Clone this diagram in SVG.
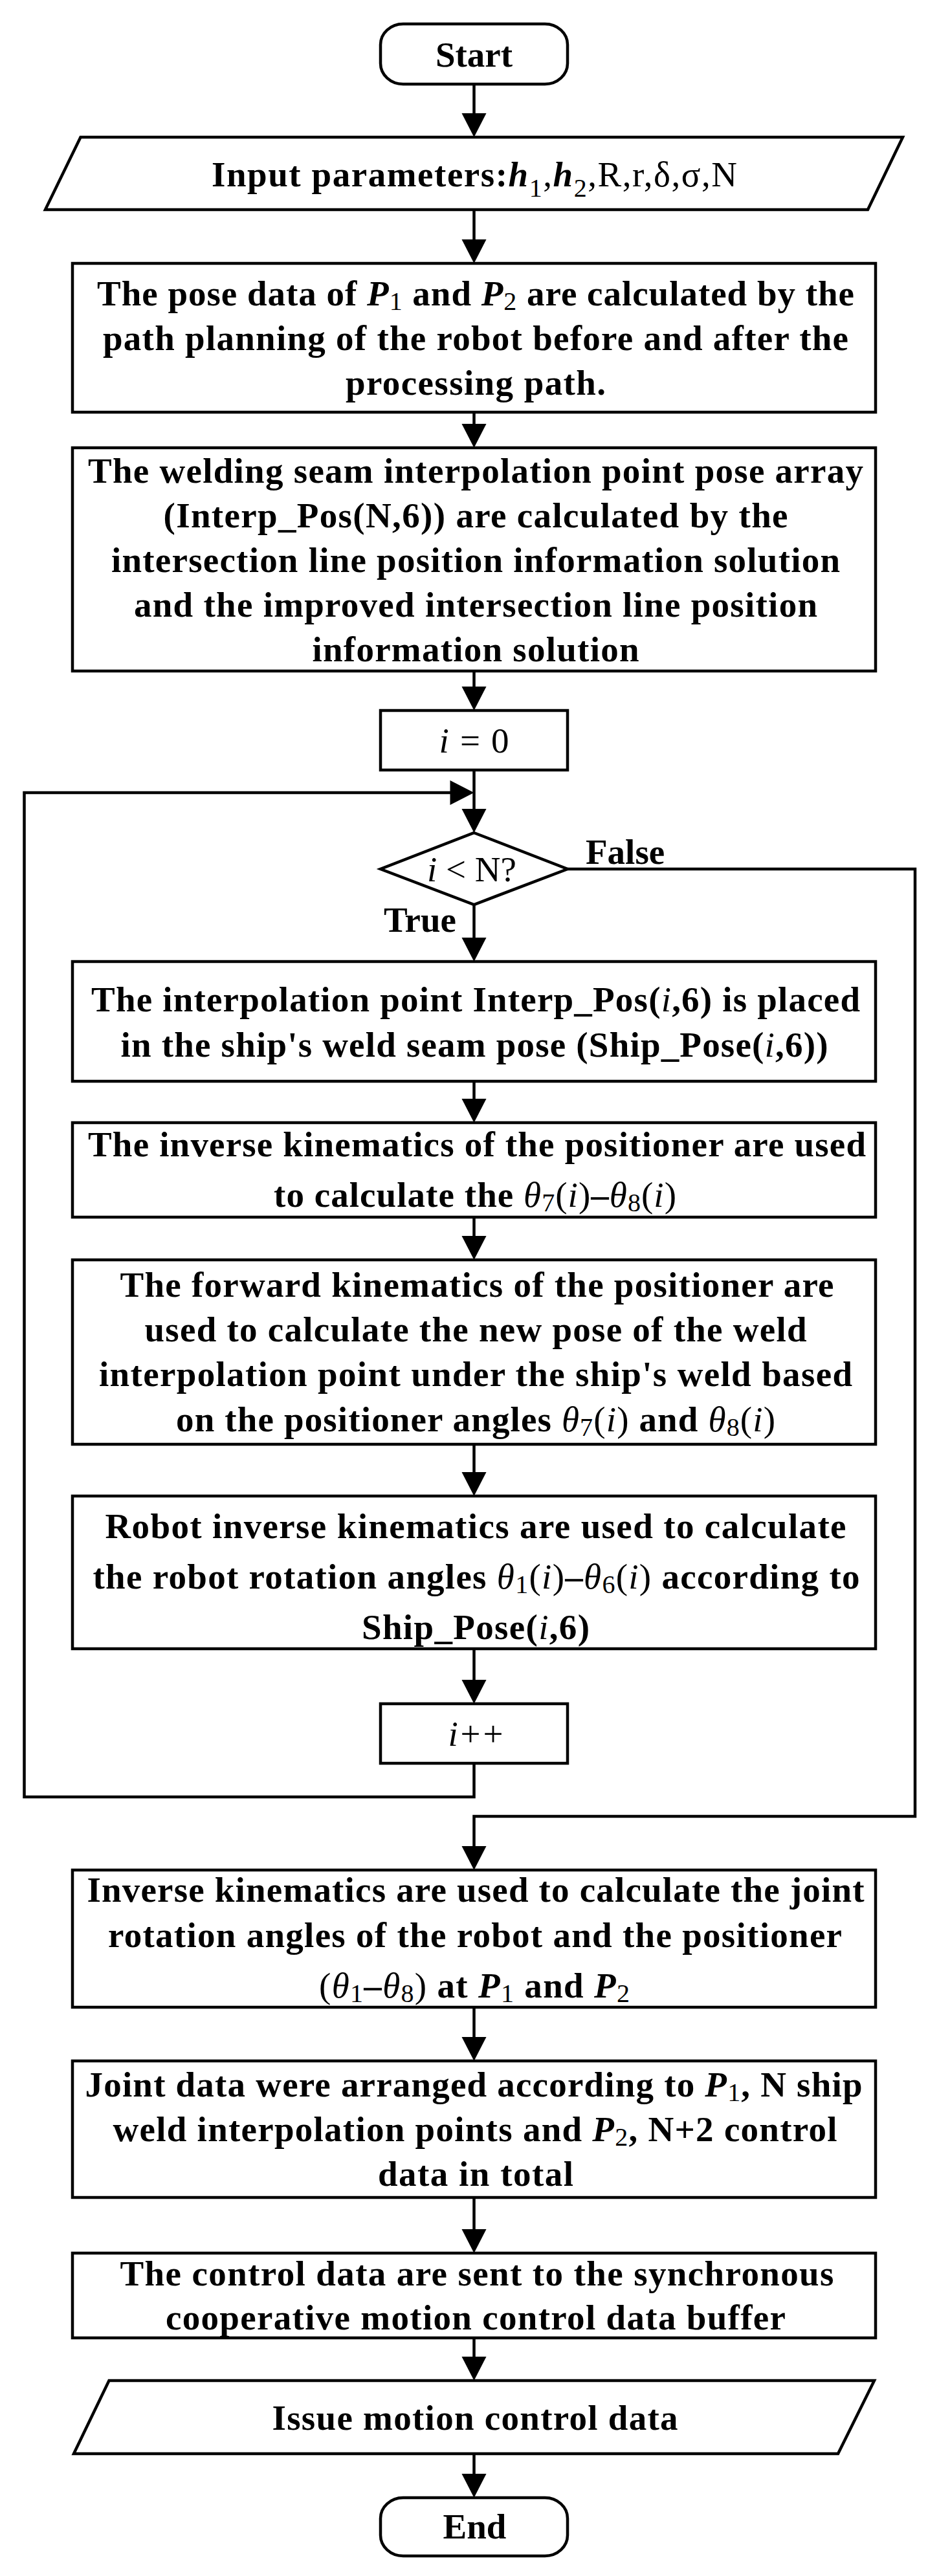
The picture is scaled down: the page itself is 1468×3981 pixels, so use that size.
<svg xmlns="http://www.w3.org/2000/svg" width="1468" height="3981" viewBox="0 0 1468 3981">
<defs>
<style>
.n{fill:#fff;stroke:#000;stroke-width:4.5;stroke-linejoin:miter}
.t{font-family:"Liberation Serif","Times New Roman",serif;font-size:55px;font-weight:bold;text-anchor:middle;fill:#000}
.l{text-anchor:start}
.r{font-weight:normal}
.it{font-style:italic}
.s{font-size:40px;font-weight:normal;font-style:normal}
.c{fill:none;stroke:#000;stroke-width:4.5;stroke-linejoin:miter;marker-end:url(#ah)}
</style>
<marker id="ah" markerUnits="userSpaceOnUse" markerWidth="37" markerHeight="38" viewBox="0 0 37 38" refX="1" refY="19" orient="auto" overflow="visible">
<path d="M0,0 L37,19 L0,38 Z" fill="#000"/>
</marker>
</defs>
<rect width="1468" height="3981" fill="#fff"/>

<g id="n-start">
<rect class="n" x="588" y="37" width="289" height="93" rx="35" ry="32"/>
<text class="t" x="732.5" y="103">Start</text>
</g>

<g id="n-input">
<polygon class="n" points="124.5,212 1395,212 1341,324 70,324"/>
<text class="t" x="733" y="288" textLength="812">Input parameters:<tspan class="it">h</tspan><tspan class="s" dy="16">1</tspan><tspan class="r" dy="-16">,</tspan><tspan class="it">h</tspan><tspan class="s" dy="16">2</tspan><tspan class="r" dy="-16">,R,r,δ,σ,N</tspan></text>
</g>

<g id="n-pose">
<rect class="n" x="112" y="407" width="1241" height="230"/>
<text class="t" x="735" y="472" textLength="1170">The pose data of <tspan class="it">P</tspan><tspan class="s" dy="7">1</tspan><tspan dy="-7"> and </tspan><tspan class="it">P</tspan><tspan class="s" dy="7">2</tspan><tspan dy="-7"> are calculated by the</tspan></text>
<text class="t" x="735" y="541" textLength="1152">path planning of the robot before and after the</text>
<text class="t" x="735" y="610" textLength="402">processing path.</text>
</g>

<g id="n-interp">
<rect class="n" x="112" y="692" width="1241" height="345"/>
<text class="t" x="735" y="746" textLength="1198">The welding seam interpolation point pose array</text>
<text class="t" x="735" y="815" textLength="965">(Interp_Pos(N,6)) are calculated by the</text>
<text class="t" x="735" y="884" textLength="1126">intersection line position information solution</text>
<text class="t" x="735" y="953" textLength="1056">and the improved intersection line position</text>
<text class="t" x="735" y="1022" textLength="505">information solution</text>
</g>

<g id="n-init">
<rect class="n" x="588" y="1098" width="289" height="92"/>
<text class="t r" x="732.5" y="1163" textLength="108"><tspan class="it">i</tspan> = 0</text>
</g>

<g id="n-cond">
<polygon class="n" points="732.5,1287 877,1343 732.5,1398 588,1343"/>
<text class="t r" x="729" y="1362"><tspan class="it">i</tspan> &lt; N?</text>
</g>

<g id="n-place">
<rect class="n" x="112" y="1486" width="1241" height="185"/>
<text class="t" x="735" y="1563" textLength="1188">The interpolation point Interp_Pos(<tspan class="r it">i</tspan>,6) is placed</text>
<text class="t" x="733" y="1633" textLength="1093">in the ship's weld seam pose (Ship_Pose(<tspan class="r it">i</tspan>,6))</text>
</g>

<g id="n-posinv">
<rect class="n" x="112" y="1735" width="1241" height="146"/>
<text class="t" x="737" y="1787" textLength="1202">The inverse kinematics of the positioner are used</text>
<text class="t" x="734" y="1865" textLength="622">to calculate the <tspan class="r it">θ</tspan><tspan class="s" dy="7">7</tspan><tspan class="r" dy="-7">(</tspan><tspan class="r it">i</tspan><tspan class="r">)</tspan>–<tspan class="r it">θ</tspan><tspan class="s" dy="7">8</tspan><tspan class="r" dy="-7">(</tspan><tspan class="r it">i</tspan><tspan class="r">)</tspan></text>
</g>

<g id="n-posfwd">
<rect class="n" x="112" y="1947" width="1241" height="285"/>
<text class="t" x="737" y="2004" textLength="1103">The forward kinematics of the positioner are</text>
<text class="t" x="735" y="2073" textLength="1023">used to calculate the new pose of the weld</text>
<text class="t" x="735" y="2142" textLength="1164">interpolation point under the ship's weld based</text>
<text class="t" x="735" y="2212" textLength="926">on the positioner angles <tspan class="r it">θ</tspan><tspan class="s" dy="7">7</tspan><tspan class="r" dy="-7">(</tspan><tspan class="r it">i</tspan><tspan class="r">)</tspan> and <tspan class="r it">θ</tspan><tspan class="s" dy="7">8</tspan><tspan class="r" dy="-7">(</tspan><tspan class="r it">i</tspan><tspan class="r">)</tspan></text>
</g>

<g id="n-robinv">
<rect class="n" x="112" y="2312" width="1241" height="236"/>
<text class="t" x="735" y="2377" textLength="1145">Robot inverse kinematics are used to calculate</text>
<text class="t" x="736" y="2455" textLength="1185">the robot rotation angles <tspan class="r it">θ</tspan><tspan class="s" dy="7">1</tspan><tspan class="r" dy="-7">(</tspan><tspan class="r it">i</tspan><tspan class="r">)</tspan>–<tspan class="r it">θ</tspan><tspan class="s" dy="7">6</tspan><tspan class="r" dy="-7">(</tspan><tspan class="r it">i</tspan><tspan class="r">)</tspan> according to</text>
<text class="t" x="735" y="2533" textLength="352">Ship_Pose(<tspan class="r it">i</tspan>,6)</text>
</g>

<g id="n-incr">
<rect class="n" x="588" y="2633" width="289" height="92"/>
<text class="t r" x="735" y="2698" textLength="85"><tspan class="it">i</tspan>++</text>
</g>

<g id="n-endpts">
<rect class="n" x="112" y="2890" width="1241" height="212"/>
<text class="t" x="735" y="2939" textLength="1201">Inverse kinematics are used to calculate the joint</text>
<text class="t" x="734" y="3009" textLength="1134">rotation angles of the robot and the positioner</text>
<text class="t" x="733" y="3087" textLength="480"><tspan class="r">(</tspan><tspan class="r it">θ</tspan><tspan class="s" dy="7">1</tspan><tspan dy="-7">–</tspan><tspan class="r it">θ</tspan><tspan class="s" dy="7">8</tspan><tspan class="r" dy="-7">)</tspan> at <tspan class="it">P</tspan><tspan class="s" dy="7">1</tspan><tspan dy="-7"> and </tspan><tspan class="it">P</tspan><tspan class="s" dy="7">2</tspan></text>
</g>

<g id="n-arrange">
<rect class="n" x="112" y="3185" width="1241" height="211"/>
<text class="t" x="732" y="3240" textLength="1201">Joint data were arranged according to <tspan class="it">P</tspan><tspan class="s" dy="7">1</tspan><tspan dy="-7">, N ship</tspan></text>
<text class="t" x="734" y="3309" textLength="1119">weld interpolation points and <tspan class="it">P</tspan><tspan class="s" dy="7">2</tspan><tspan dy="-7">, N+2 control</tspan></text>
<text class="t" x="735" y="3378" textLength="302">data in total</text>
</g>

<g id="n-send">
<rect class="n" x="112" y="3482" width="1241" height="131"/>
<text class="t" x="737" y="3532" textLength="1103">The control data are sent to the synchronous</text>
<text class="t" x="735" y="3600" textLength="958">cooperative motion control data buffer</text>
</g>

<g id="n-issue">
<polygon class="n" points="168.5,3679 1351,3679 1295,3792 114,3792"/>
<text class="t" x="734" y="3755" textLength="627">Issue motion control data</text>
</g>

<g id="n-end">
<rect class="n" x="588" y="3860" width="289" height="90" rx="35" ry="32"/>
<text class="t" x="733.5" y="3923">End</text>
</g>

<g id="connectors">
<path class="c" d="M732.5,130 V176"/>
<path class="c" d="M732.5,324 V371"/>
<path class="c" d="M732.5,637 V656"/>
<path class="c" d="M732.5,1037 V1062"/>
<path class="c" d="M732.5,1190 V1251"/>
<path class="c" d="M732.5,1398 V1450"/>
<path class="c" d="M732.5,1671 V1699"/>
<path class="c" d="M732.5,1881 V1911"/>
<path class="c" d="M732.5,2232 V2276"/>
<path class="c" d="M732.5,2548 V2597"/>
<path class="c" d="M732.5,2725 V2777 H37.5 V1225 H696.5"/>
<path class="c" d="M877,1343 H1414 V2807 H732.5 V2854"/>
<path class="c" d="M732.5,3102 V3149"/>
<path class="c" d="M732.5,3396 V3446"/>
<path class="c" d="M732.5,3613 V3643"/>
<path class="c" d="M732.5,3792 V3824"/>
<text class="t l" x="905" y="1335">False</text>
<text class="t l" x="593" y="1440">True</text>
</g>
</svg>
